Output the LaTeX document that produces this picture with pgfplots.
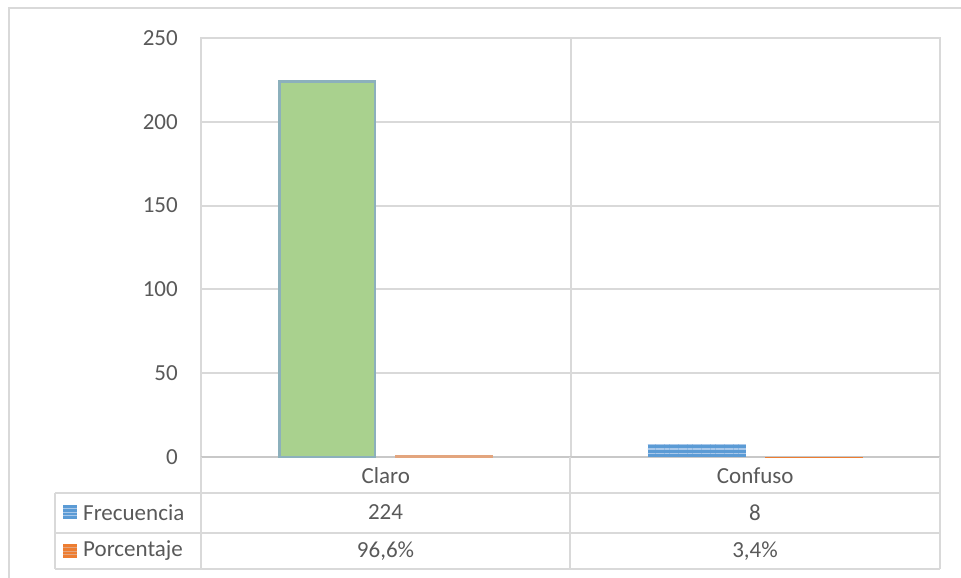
\documentclass[border=0pt]{standalone}
\usepackage{fontspec}
\setmainfont{Carlito}
\usepackage{pgfplots}
\pgfplotsset{compat=1.18}
\usetikzlibrary{patterns.meta}
\definecolor{txt}{HTML}{595959}
\definecolor{grd}{HTML}{D9D9D9}
\definecolor{zer}{HTML}{C8C8C8}
\definecolor{grn}{HTML}{A9D18E}
\definecolor{grnedge}{HTML}{8CB0BC}
\definecolor{blu}{HTML}{5B9BD5}
\definecolor{blul}{HTML}{A9C8EA}
\definecolor{org}{HTML}{ED7D31}
\definecolor{orgl}{HTML}{E3A57E}
\begin{document}
\begin{tikzpicture}[font=\fontsize{23}{27}\selectfont]
\path[use as bounding box] (0pt,0pt) rectangle (961pt,-578pt);
\draw[grd, line width=1.5pt] (9pt,-578pt) -- (9pt,-8pt) -- (961pt,-8pt);
\begin{axis}[
  at={(201pt,-457pt)}, anchor=south west,
  scale only axis, width=739pt, height=419pt,
  xmin=-0.5, xmax=1.5, ymin=0, ymax=250,
  ytick={0,50,100,150,200,250},
  xtick={0,1}, xticklabels={Claro,Confuso},
  extra x ticks={0.5}, extra x tick labels={},
  extra x tick style={grid=major},
  ymajorgrids,
  major grid style={grd, line width=2pt},
  axis line style={grd, line width=2pt},
  tick style={draw=none},
  /pgf/number format/assume math mode=true,
  ticklabel style={text=txt, font=\fontsize{23}{27}\selectfont},
  yticklabel style={anchor=east, inner sep=0pt, xshift=-23pt},
  xticklabel style={anchor=center, inner sep=0pt, yshift=-19pt},
  clip=false,
]
\draw[zer, line width=2pt] (rel axis cs:0,0) -- (rel axis cs:1,0);
\addplot[ybar, bar width=95.5pt, bar shift=-58.5pt, fill=grn, draw=grnedge, line width=2.5pt] coordinates {(0,224)};
\addplot[ybar, bar width=98pt, bar shift=-58.5pt, fill=blu, draw=none,
  postaction={pattern={Lines[angle=0, distance=4.6pt, line width=1.4pt]}, pattern color=blul}] coordinates {(1,8)};
\addplot[ybar, bar width=97pt, bar shift=58.5pt, fill=orgl, draw=orgl, line width=1pt] coordinates {(0,0.966)};
\addplot[ybar, bar width=98pt, bar shift=58.5pt, fill=org, draw=none] coordinates {(1,0.034)};
\end{axis}
% data table
\begin{scope}[grd, line width=2pt]
\draw (55pt,-493pt) -- (940pt,-493pt);
\draw (55pt,-533pt) -- (940pt,-533pt);
\draw (55pt,-569pt) -- (940pt,-569pt);
\draw (55pt,-493pt) -- (55pt,-569pt);
\draw (201pt,-457pt) -- (201pt,-569pt);
\draw (570pt,-457pt) -- (570pt,-569pt);
\draw (940pt,-457pt) -- (940pt,-569pt);
\end{scope}
% legend keys
\fill[blu] (63pt,-505pt) rectangle (77pt,-519pt);
\foreach \yy in {-508.5,-512,-515.5} \draw[blul, line width=1pt] (63pt,\yy pt) -- (77pt,\yy pt);
\fill[org] (63pt,-544pt) rectangle (77pt,-558pt);
\foreach \yy in {-547.5,-551,-554.5} \draw[orgl, line width=1pt] (63pt,\yy pt) -- (77pt,\yy pt);
\node[anchor=west, inner sep=0pt, text=txt] at (83pt,-512.5pt) {Frecuencia};
\node[anchor=west, inner sep=0pt, text=txt] at (83pt,-551pt) {Porcentaje};
\node[text=txt, inner sep=0pt] at (385.5pt,-512.5pt) {224};
\node[text=txt, inner sep=0pt] at (755pt,-512.5pt) {8};
\node[text=txt, inner sep=0pt] at (385.5pt,-551pt) {96,6\%};
\node[text=txt, inner sep=0pt] at (755pt,-551pt) {3,4\%};
\end{tikzpicture}
\end{document}
